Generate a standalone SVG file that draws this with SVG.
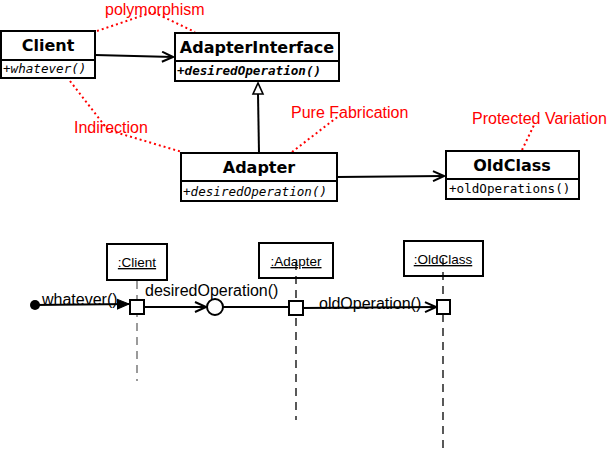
<svg xmlns="http://www.w3.org/2000/svg" width="608" height="458" viewBox="0 0 608 458">
<style>
.box{fill:#fff;stroke:#000;stroke-width:2}
.ttl{font-family:"DejaVu Sans",sans-serif;font-weight:bold;font-size:16px;text-anchor:middle}
.op{font-family:"DejaVu Sans Mono",monospace;font-size:12.6px}
.red{font-family:"Liberation Sans",Arial,sans-serif;font-size:16px;fill:#f00}
.dot{fill:none;stroke:#f00;stroke-width:2;stroke-dasharray:2,3}
.ln{fill:none;stroke:#000;stroke-width:2}
.msg{font-family:"Liberation Sans",Arial,sans-serif;font-size:16px;fill:#000}
.obj{font-family:"Liberation Sans",Arial,sans-serif;font-size:13.5px;text-anchor:middle;text-decoration:underline}
.life{fill:none;stroke:#000;stroke-width:1.3;stroke-dasharray:8,6}
</style>
<defs>
<marker id="open" markerWidth="14" markerHeight="12" refX="12" refY="6" orient="auto" markerUnits="userSpaceOnUse">
<path d="M1,1 L12,6 L1,11" fill="none" stroke="#000" stroke-width="2"/>
</marker>
<marker id="fill" markerWidth="14" markerHeight="12" refX="12" refY="6" orient="auto" markerUnits="userSpaceOnUse">
<path d="M0,1 L12,6 L0,11 Z" fill="#000" stroke="#000" stroke-width="1"/>
</marker>
</defs>

<g id="notes">
<polyline class="dot" points="97,31 153,12 195,32"/>
<polyline class="dot" points="70,81 108,130 182,152"/>
<line class="dot" x1="292" y1="152" x2="340" y2="115"/>
<line class="dot" x1="522" y1="150" x2="535" y2="123"/>
<text class="red" x="105" y="15">polymorphism</text>
<text class="red" x="74" y="133">Indirection</text>
<text class="red" x="291" y="118">Pure Fabrication</text>
<text class="red" x="472" y="124">Protected Variation</text>
</g>

<g id="connectors">
<line class="ln" x1="95" y1="55" x2="173" y2="57" marker-end="url(#open)"/>
<line class="ln" x1="259" y1="153" x2="258" y2="94"/>
<path d="M258,83 L253,94 L263,94 Z" fill="#fff" stroke="#000" stroke-width="1.6"/>
<line class="ln" x1="337" y1="177" x2="444" y2="176" marker-end="url(#open)"/>
</g>

<g id="Client">
<rect class="box" x="1" y="31" width="94" height="47"/>
<line class="ln" x1="1" y1="60" x2="95" y2="60"/>
<text class="ttl" x="48" y="51">Client</text>
<text class="op" x="3" y="73" font-style="italic">+whatever()</text>
</g>

<g id="AdapterInterface">
<rect class="box" x="175" y="33" width="164" height="48"/>
<line class="ln" x1="175" y1="61" x2="339" y2="61"/>
<text class="ttl" x="257" y="53">AdapterInterface</text>
<text class="op" x="177" y="75" font-style="italic" font-weight="bold">+desiredOperation()</text>
</g>

<g id="Adapter">
<rect class="box" x="181" y="153" width="156" height="48"/>
<line class="ln" x1="181" y1="181" x2="337" y2="181"/>
<text class="ttl" x="259" y="173">Adapter</text>
<text class="op" x="183" y="196" font-style="italic">+desiredOperation()</text>
</g>

<g id="OldClass">
<rect class="box" x="446" y="151" width="133" height="48"/>
<line class="ln" x1="446" y1="179" x2="579" y2="179"/>
<text class="ttl" x="512" y="171">OldClass</text>
<text class="op" x="449" y="193">+oldOperations()</text>
</g>

<g id="seq-lifelines">
<line class="life" x1="137" y1="281" x2="137" y2="381" style="stroke:#666"/>
<line class="life" x1="296" y1="262" x2="296" y2="420"/>
<line class="life" x1="443" y1="258" x2="443" y2="450"/>
</g>

<g id="obj-Client">
<rect class="box" x="107" y="244" width="60" height="36" style="fill:none"/>
<text class="obj" x="137" y="267">:Client</text>
</g>
<g id="obj-Adapter">
<rect class="box" x="259" y="243" width="74" height="35" style="fill:none"/>
<text class="obj" x="296" y="266">:Adapter</text>
</g>
<g id="obj-OldClass">
<rect class="box" x="404" y="241" width="79" height="35" style="fill:none"/>
<text class="obj" x="443" y="264">:OldClass</text>
</g>

<g id="seq-messages">
<circle cx="35" cy="305" r="5" fill="#000"/>
<line class="ln" x1="35" y1="305" x2="129" y2="304" marker-end="url(#fill)"/>
<line class="ln" x1="144" y1="307" x2="206" y2="307" marker-end="url(#open)"/>
<line class="ln" x1="223" y1="307" x2="289" y2="307"/>
<line class="ln" x1="303" y1="308" x2="436" y2="307" marker-end="url(#open)"/>
<text class="msg" x="42" y="305">whatever()</text>
<text class="msg" x="145" y="296">desiredOperation()</text>
<text class="msg" x="319" y="309">oldOperation()</text>
</g>

<g id="activations">
<rect class="box" x="130" y="300" width="14" height="14"/>
<circle cx="215" cy="307" r="8" fill="#fff" stroke="#000" stroke-width="2"/>
<rect class="box" x="289" y="301" width="14" height="14"/>
<rect class="box" x="437" y="300" width="13" height="14"/>
</g>
</svg>
